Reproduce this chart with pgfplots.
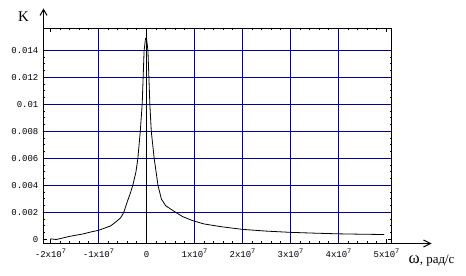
\documentclass[border=0pt]{standalone}
\usepackage{fontspec}
\setmainfont{Liberation Serif}
\newfontfamily\monofont{Liberation Mono}
\usepackage{pgfplots}
\pgfplotsset{compat=1.18}
\usetikzlibrary{arrows.meta}
\definecolor{gridblue}{RGB}{0,0,150}
\newcommand{\xl}[1]{{\monofont\fontsize{9}{9}\selectfont #1x10\raisebox{4.5bp}{\fontsize{7}{7}\selectfont 7}}}
\begin{document}
\begin{tikzpicture}
\useasboundingbox (-43.5bp,-32.5bp) rectangle (422.5bp,243.5bp);
\begin{axis}[
  at={(0bp,0bp)}, anchor=south west,
  scale only axis, width=348bp, height=215bp,
  xmin=-2.1458333e7, xmax=5.1041667e7, ymin=-0.000296296, ymax=0.01562963,
  axis line style={black, line width=1bp},
  scaled ticks=false,
  xtick={-2e7,-1e7,0,1e7,2e7,3e7,4e7,5e7},
  xticklabels={\xl{-2},\xl{-1},{\monofont\fontsize{9}{9}\selectfont 0},\xl{1},\xl{2},\xl{3},\xl{4},\xl{5}},
  ytick={0,0.002,0.004,0.006,0.008,0.01,0.012,0.014},
  yticklabels={0,0.002,0.004,0.006,0.008,0.01,0.012,0.014},
  xticklabel style={anchor=base, inner sep=0pt, yshift=-14bp},
  yticklabel style={anchor=east, inner sep=0pt, xshift=-5bp, font=\monofont\fontsize{9}{9}\selectfont},
  minor x tick num=4, minor y tick num=3,
  tick align=inside,
  major tick length=4bp, minor tick length=2bp,
  tick style={black, line width=1bp},
  extra x ticks={-1e7,1e7,2e7,3e7,4e7}, extra x tick labels={},
  extra x tick style={grid=major, major tick length=0pt, major grid style={draw=gridblue, line width=1bp}},
  extra y ticks={0.002,0.004,0.006,0.008,0.01,0.012,0.014}, extra y tick labels={},
  extra y tick style={grid=major, major tick length=0pt, major grid style={draw=gridblue, line width=1bp}},
]
\addplot[black, line width=1bp] coordinates {(0,-0.0003) (0,0.01566)};
\addplot[black, line width=0.8bp] coordinates {
(-2.0e7,0.00005) (-1.88e7,0.0) (-1.59e7,0.00024) (-1.31e7,0.00042) (-1.17e7,0.00055)
(-1.0e7,0.00068) (-0.75e7,0.0010) (-0.65e7,0.00127) (-0.54e7,0.0016) (-0.475e7,0.002)
(-0.40e7,0.0028) (-0.33e7,0.0035) (-0.28e7,0.0041) (-0.22e7,0.005) (-0.18e7,0.006) (-0.13e7,0.008)
(-0.09e7,0.010) (-0.07e7,0.012) (-0.05e7,0.014) (-0.02e7,0.0149) (0.0,0.0149)
(0.03e7,0.014) (0.05e7,0.012) (0.07e7,0.010) (0.10e7,0.008) (0.16e7,0.006)
(0.24e7,0.004) (0.31e7,0.003) (0.40e7,0.0025) (0.57e7,0.0021) (0.75e7,0.0017)
(0.96e7,0.0014) (1.2e7,0.00115) (1.55e7,0.00095) (2.0e7,0.00075) (2.5e7,0.00062)
(3.0e7,0.00053) (3.5e7,0.00047) (4.0e7,0.00042) (4.5e7,0.00039) (4.95e7,0.00037)
};
\end{axis}
\draw[line width=1bp, -{Straight Barb[length=6bp,width=7bp]}] (0bp,215bp) -- (0bp,235bp);
\draw[line width=1bp, -{Straight Barb[length=7bp,width=7bp]}] (348bp,0bp) -- (388bp,0bp);
\node[anchor=center, inner sep=0pt, font=\fontsize{15}{15}\selectfont] at (-20bp,227bp) {K};
\node[anchor=base west, inner sep=0pt] at (365bp,-19.5bp) {{\fontsize{17}{17}\selectfont ω}{\fontsize{13}{13}\selectfont , рад/с}};
\end{tikzpicture}
\end{document}
